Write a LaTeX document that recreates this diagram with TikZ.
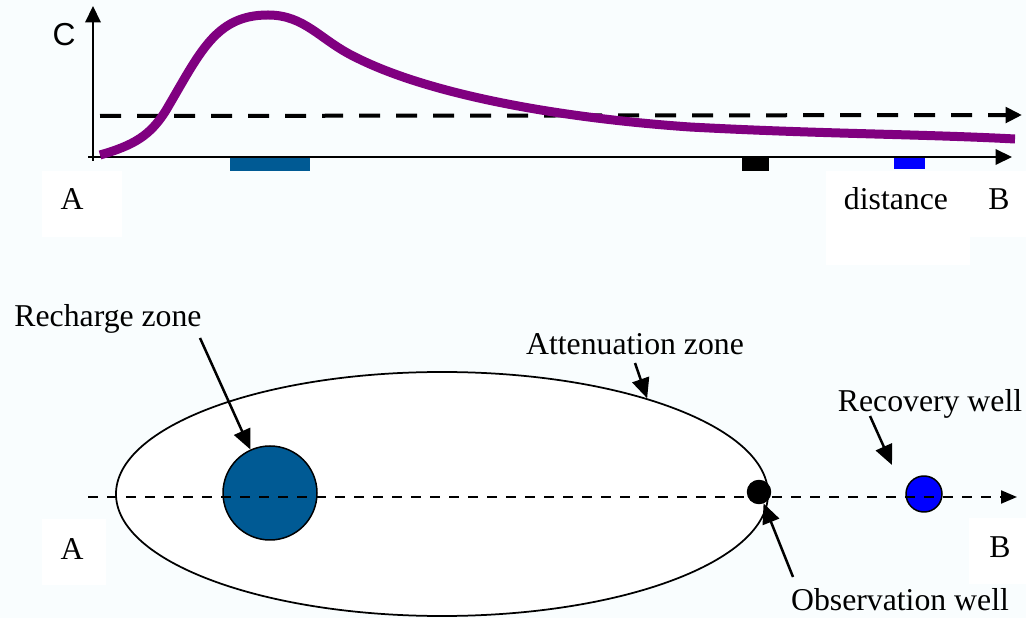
\documentclass[tikz,border=0pt]{standalone}
\usepackage{fontspec}
\setmainfont{Liberation Serif}
\newfontfamily\axisfont{Liberation Sans}
\usepackage{tikz}
\usetikzlibrary{arrows.meta,positioning,shapes.geometric}
\definecolor{pagetint}{RGB}{249,253,254}
\definecolor{plumepurple}{RGB}{128,0,128}
\definecolor{rechargeblue}{RGB}{0,90,148}
\definecolor{wellblue}{RGB}{0,0,255}
\tikzset{
  every picture/.append style={line join=round},
  plume curve/.style={plumepurple,line width=3.6pt},
  axis line/.style={line width=0.8pt,-{Triangle[length=6.6pt,width=6.2pt]}},
  limit line/.style={line width=1.6pt,dash pattern=on 8.4pt off 6.4pt,-{Triangle[length=6.6pt,width=6.2pt]}},
  flow line/.style={line width=0.8pt,dash pattern=on 4pt off 3.6pt,-{Triangle[length=6.4pt,width=5.2pt]}},
  callout arrow/.style={line width=1pt,-{Triangle[length=8pt,width=7pt]}},
  site label/.style={anchor=base,inner sep=0pt,font=\fontsize{12.7}{15}\selectfont},
  well/.style={circle,draw=black,line width=0.6pt,inner sep=0pt}
}

\begin{document}
\begin{tikzpicture}[x=0.4pt,y=-0.4pt]
  \fill[pagetint] (0,0) rectangle (1026,618);
  \useasboundingbox (0,0) rectangle (1026,618);
  % white panels behind the letters
  \fill[white] (42,171) rectangle (122,237);
  \fill[white] (826,171) -- (1026,171) -- (1026,237) -- (970,237) -- (970,265) -- (826,265) -- cycle;
  \fill[white] (42,519) rectangle (106,585);
  \fill[white] (969,518) rectangle (1026,584);

  % concentration along A--B
  \fill[rechargeblue] (230,157) rectangle (310,171);
  \fill[black] (742,157) rectangle (769,171);
  \fill[wellblue] (894,156) rectangle (925,169);
  \coordinate (xstart) at (88,157);
  \coordinate (xend) at (1012,157);
  \coordinate (ybot) at (93,161);
  \coordinate (ytop) at (93,6);
  \draw[axis line] (xstart) -- (xend);
  \draw[axis line] (ybot) -- (ytop);
  \node[anchor=base,inner sep=0pt,font=\axisfont\fontsize{12.7}{15}\selectfont] (clab) at (64,46) {C};
  \coordinate (limstart) at (100,116);
  \coordinate (limend) at (1022,115);
  \draw[limit line] (limstart) -- (limend);
  \draw[plume curve] (100,155) .. controls (135,145) and (150,135) .. (165,112)
    .. controls (200,53) and (215,15) .. (268,15)
    .. controls (305,15) and (320,40) .. (355,57)
    .. controls (430,95) and (560,118) .. (690,127)
    .. controls (820,134) and (920,134) .. (1015,139);
  \node[site label] (atop) at (72,210) {A};
  \node[site label] (dist) at (896,210) {distance};
  \node[site label] (btop) at (999,210) {B};

  % plan view
  \node[ellipse,draw,fill=white,line width=0.7pt,minimum width=260.8pt,minimum height=97.6pt,inner sep=0pt] (zone) at (442,494) {};
  \node[well,fill=rechargeblue,minimum size=37.6pt] (rzone) at (270,493) {};
  \node[well,fill=black,minimum size=9.2pt] (owell) at (759,492) {};
  \node[well,fill=wellblue,minimum size=14.4pt] (rwell) at (924,494) {};
  \coordinate (flowstart) at (88,497);
  \coordinate (flowend) at (1017,497);
  \draw[flow line] (flowstart) -- (flowend);

  \node[site label] (rzlab) at (108,327) {Recharge zone};
  \node[site label] (azlab) at (635,355) {Attenuation zone};
  \node[site label] (rwlab) at (930,412) {Recovery well};
  \node[site label] (owlab) at (900,610) {Observation well};
  \node[site label] (abot) at (72,559) {A};
  \node[site label] (bbot) at (1000,557) {B};

  \coordinate (rztail) at (200,338);
  \coordinate (aztail) at (635,363);
  \coordinate (rwtail) at (870,416);
  \coordinate (rwtip) at (892,465);
  \coordinate (owtail) at (793,577);
  \draw[callout arrow] (rztail) -- (rzone);
  \draw[callout arrow] (aztail) -- (zone.25);
  \draw[callout arrow] (rwtail) -- (rwtip);
  \draw[callout arrow] (owtail) -- (owell);
\end{tikzpicture}
\end{document}
